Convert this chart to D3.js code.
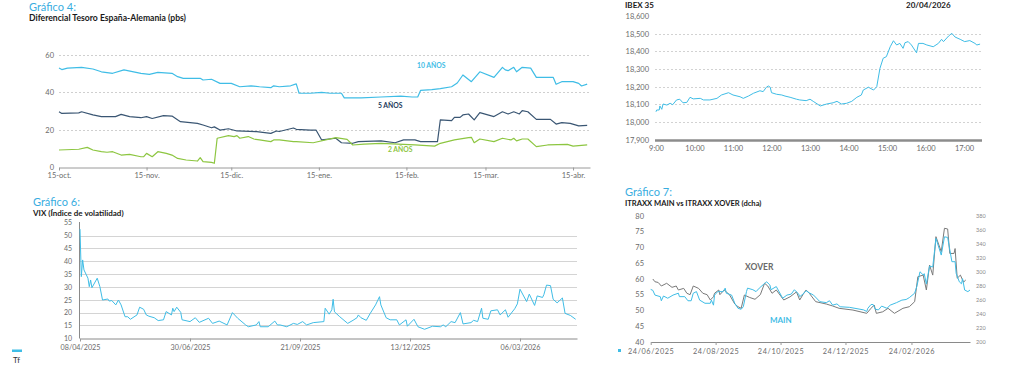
<!DOCTYPE html>
<html><head><meta charset="utf-8">
<script src="https://cdn.jsdelivr.net/npm/d3@7"></script>
<style>
html,body{margin:0;padding:0;background:#fff;}
svg{display:block;font-family:Lato,"Open Sans",sans-serif;}
</style></head><body>
<svg id="c" width="1024" height="365"></svg>
<script>
// ---------- Gráfico 4: Diferencial Tesoro España-Alemania (pbs) ----------
const spreadTicks = ["2025-10-15","2025-11-15","2025-12-15","2026-01-15","2026-02-15","2026-03-15","2026-04-15"];
const spreadTickLabels = ["15-oct.","15-nov.","15-dic.","15-ene.","15-feb.","15-mar.","15-abr."];
const spreadYTicks = [0,20,40,60];
const spread10 = [["2025-10-15",53],["2025-10-16",52.2],["2025-10-18",53],["2025-10-23",53.4],["2025-10-27",52.5],["2025-10-30",51],["2025-11-03",50.2],["2025-11-07",52],["2025-11-13",50.2],["2025-11-16",49.6],["2025-11-19",50.7],["2025-11-24",50.2],["2025-11-26",48.4],["2025-11-28",47.5],["2025-12-04",47.5],["2025-12-05",46.6],["2025-12-08",47],["2025-12-11",44.8],["2025-12-15",44.8],["2025-12-18",43],["2025-12-22",43.5],["2025-12-25",43],["2025-12-29",42.5],["2025-12-30",43.5],["2026-01-01",43],["2026-01-05",43.5],["2026-01-07",44.5],["2026-01-08",39.5],["2026-01-12",39.5],["2026-01-16",40],["2026-01-19",39.5],["2026-01-23",39.5],["2026-01-24",37],["2026-01-30",37],["2026-02-06",37.5],["2026-02-13",38],["2026-02-17",37.5],["2026-02-19",37.5],["2026-02-20",41],["2026-02-24",41.5],["2026-02-27",42],["2026-03-03",43],["2026-03-05",45],["2026-03-07",49.3],["2026-03-10",45.7],["2026-03-13",51],["2026-03-18",48],["2026-03-21",53.4],["2026-03-22",52],["2026-03-23",51.6],["2026-03-25",53.4],["2026-03-26",51],["2026-03-28",53.4],["2026-03-31",53],["2026-04-02",48],["2026-04-08",48],["2026-04-09",44.3],["2026-04-11",45.7],["2026-04-15",45.7],["2026-04-17",44.8],["2026-04-18",43.4],["2026-04-20",44.4]];
const spread5 = [["2025-10-15",29.6],["2025-10-16",28.7],["2025-10-22",29],["2025-10-23",29.6],["2025-10-27",27.9],["2025-10-30",27],["2025-11-04",27],["2025-11-06",28.2],["2025-11-09",27],["2025-11-13",26.4],["2025-11-15",27],["2025-11-17",26],["2025-11-21",27.5],["2025-11-24",27.3],["2025-11-27",24.3],["2025-12-03",23.4],["2025-12-05",22.5],["2025-12-08",21],["2025-12-09",21.5],["2025-12-11",19.8],["2025-12-14",20.5],["2025-12-17",19.3],["2025-12-24",18.9],["2025-12-29",18],["2025-12-31",19.3],["2026-01-01",19],["2026-01-06",20.9],["2026-01-07",20.2],["2026-01-12",19.8],["2026-01-14",19.8],["2026-01-16",14.5],["2026-01-21",15.4],["2026-01-23",13],["2026-01-27",12.7],["2026-01-29",13.6],["2026-02-06",14],["2026-02-11",13],["2026-02-14",14.5],["2026-02-18",14.5],["2026-02-20",13.6],["2026-02-26",13.6],["2026-02-27",25.2],["2026-03-03",24.8],["2026-03-04",26.6],["2026-03-06",26.6],["2026-03-07",27.9],["2026-03-09",28.4],["2026-03-11",25.2],["2026-03-13",29.1],["2026-03-18",27],["2026-03-21",29.6],["2026-03-23",28.4],["2026-03-25",29.6],["2026-03-27",28.4],["2026-03-28",30.2],["2026-03-30",29.6],["2026-04-02",25.5],["2026-04-07",25.5],["2026-04-09",23],["2026-04-11",23.8],["2026-04-14",23.4],["2026-04-17",22],["2026-04-20",22.3]];
const spread2 = [["2025-10-15",9.1],["2025-10-22",9.5],["2025-10-25",10.5],["2025-10-27",9.1],["2025-10-30",8.2],["2025-11-01",7.9],["2025-11-03",8.2],["2025-11-06",6.4],["2025-11-09",6.8],["2025-11-13",5.5],["2025-11-14",5.5],["2025-11-15",7.3],["2025-11-17",5.5],["2025-11-19",8.2],["2025-11-22",7.3],["2025-11-24",6.4],["2025-11-26",4.6],["2025-11-29",3.75],["2025-12-03",3.2],["2025-12-04",5],["2025-12-05",2.9],["2025-12-08",2.5],["2025-12-09",2],["2025-12-10",15.4],["2025-12-14",16.8],["2025-12-16",16.3],["2025-12-17",16.8],["2025-12-18",15.4],["2025-12-21",16.3],["2025-12-23",15],["2025-12-25",14.5],["2025-12-29",13.6],["2025-12-30",14.5],["2026-01-01",14.5],["2026-01-06",13.6],["2026-01-07",13.6],["2026-01-13",13],["2026-01-21",15.7],["2026-01-25",14.8],["2026-01-27",11.8],["2026-01-31",12.3],["2026-02-06",12.7],["2026-02-18",11.8],["2026-02-25",11.2],["2026-02-27",12.7],["2026-03-04",14.5],["2026-03-09",15.7],["2026-03-10",15.9],["2026-03-11",13],["2026-03-13",15],["2026-03-18",13.6],["2026-03-21",15.4],["2026-03-24",14.5],["2026-03-25",15.4],["2026-03-26",14],["2026-03-28",15],["2026-03-30",15],["2026-04-02",10.9],["2026-04-06",11.8],["2026-04-13",12.1],["2026-04-15",11.2],["2026-04-20",11.8]];

// ---------- IBEX 35 intradía ----------
const ibexTicks = ["9:00","10:00","11:00","12:00","13:00","14:00","15:00","16:00","17:00"];
const ibexYTicks = [17900,18000,18100,18200,18300,18400,18500,18600];
const ibex = [["9:00",18058],["9:01",18068],["9:05",18068],["9:06",18091],["9:09",18072],["9:11",18102],["9:17",18096],["9:22",18106],["9:26",18098],["9:32",18125],["9:37",18129],["9:42",18109],["9:48",18111],["9:53",18140],["9:58",18131],["10:09",18134],["10:14",18125],["10:24",18125],["10:35",18134],["10:42",18153],["10:53",18166],["11:00",18153],["11:11",18143],["11:16",18134],["11:24",18147],["11:32",18163],["11:42",18177],["11:47",18172],["11:52",18197],["11:55",18204],["11:58",18197],["12:00",18166],["12:08",18157],["12:16",18153],["12:21",18147],["12:29",18140],["12:39",18129],["12:44",18125],["12:54",18121],["13:00",18129],["13:05",18117],["13:16",18091],["13:26",18102],["13:36",18109],["13:42",18117],["13:49",18102],["13:57",18106],["14:05",18117],["14:13",18140],["14:20",18153],["14:23",18181],["14:31",18197],["14:39",18181],["14:44",18200],["14:49",18304],["14:54",18361],["14:59",18370],["15:05",18426],["15:10",18460],["15:15",18436],["15:20",18445],["15:25",18417],["15:28",18449],["15:33",18455],["15:38",18436],["15:46",18392],["15:49",18445],["15:56",18445],["16:02",18436],["16:12",18426],["16:20",18445],["16:25",18468],["16:28",18455],["16:36",18487],["16:41",18502],["16:46",18481],["16:54",18468],["17:01",18455],["17:09",18461],["17:17",18445],["17:20",18436],["17:25",18441]];

// ---------- Gráfico 6: VIX ----------
const vixTicks = ["2025-04-08","2025-06-30","2025-09-21","2025-12-13","2026-03-06"];
const vixTickLabels = ["08/04/2025","30/06/2025","21/09/2025","13/12/2025","06/03/2026"];
const vixYTicks = [10,15,20,25,30,35,40,45,50,55];
const vix = [["2025-04-08",52.5],["2025-04-09",34],["2025-04-10",40.5],["2025-04-11",36.6],["2025-04-14",33.4],["2025-04-15",30.1],["2025-04-16",32.7],["2025-04-17",29.7],["2025-04-21",33.4],["2025-04-23",30.1],["2025-04-25",24.9],["2025-04-29",25.3],["2025-04-30",24.5],["2025-05-02",24.7],["2025-05-05",23],["2025-05-07",24.9],["2025-05-09",23],["2025-05-12",18.4],["2025-05-14",18.4],["2025-05-16",17.4],["2025-05-21",19.1],["2025-05-23",22.1],["2025-05-26",21.3],["2025-05-28",19.1],["2025-05-30",18.6],["2025-06-03",18],["2025-06-06",16.9],["2025-06-10",17.2],["2025-06-12",20.4],["2025-06-16",19.1],["2025-06-17",21.7],["2025-06-18",20.4],["2025-06-20",22.1],["2025-06-23",20.1],["2025-06-24",17.2],["2025-06-30",16.5],["2025-07-04",18],["2025-07-07",16.2],["2025-07-14",17.8],["2025-07-17",15.8],["2025-07-22",16.7],["2025-07-28",15.2],["2025-08-01",20],["2025-08-05",17.8],["2025-08-11",15.2],["2025-08-13",14.5],["2025-08-19",15.2],["2025-08-21",16.5],["2025-08-22",14.5],["2025-08-28",14.5],["2025-09-02",16.7],["2025-09-04",15.2],["2025-09-06",15.2],["2025-09-11",14.5],["2025-09-16",15.8],["2025-09-19",15.4],["2025-09-23",16.5],["2025-09-26",15.2],["2025-10-01",16.1],["2025-10-09",16.5],["2025-10-10",21.7],["2025-10-13",19.4],["2025-10-15",21.1],["2025-10-16",25.2],["2025-10-17",20.3],["2025-10-21",18.4],["2025-10-27",15.8],["2025-10-31",17],["2025-11-03",18],["2025-11-04",19.1],["2025-11-06",18],["2025-11-10",17],["2025-11-13",19.7],["2025-11-17",23],["2025-11-20",26.2],["2025-11-21",23],["2025-11-25",18],["2025-11-28",17.2],["2025-12-03",17.2],["2025-12-05",15.2],["2025-12-10",17.2],["2025-12-11",14.7],["2025-12-16",17.4],["2025-12-19",14.5],["2025-12-24",13.5],["2025-12-30",14.7],["2026-01-05",14.5],["2026-01-07",15.2],["2026-01-09",14.5],["2026-01-13",16.5],["2026-01-16",16.1],["2026-01-20",20],["2026-01-22",15.6],["2026-01-28",16.1],["2026-01-30",17],["2026-02-02",16.5],["2026-02-05",21.7],["2026-02-06",17.8],["2026-02-10",17.4],["2026-02-12",20.7],["2026-02-17",21.1],["2026-02-19",19.1],["2026-02-23",21.1],["2026-02-25",18.2],["2026-03-02",21.5],["2026-03-04",23.4],["2026-03-06",29.1],["2026-03-11",24.3],["2026-03-13",27.2],["2026-03-17",22.8],["2026-03-19",26.5],["2026-03-23",25.9],["2026-03-24",27],["2026-03-26",30.7],["2026-03-29",30.5],["2026-03-31",25.2],["2026-04-03",23.8],["2026-04-07",25.7],["2026-04-09",19.7],["2026-04-13",18.9],["2026-04-17",17.4]];

// ---------- Gráfico 7: ITRAXX MAIN vs ITRAXX XOVER ----------
const itxTicks = ["2025-06-24","2025-08-24","2025-10-24","2025-12-24","2026-02-24"];
const itxTickLabels = ["24/06/2025","24/08/2025","24/10/2025","24/12/2025","24/02/2026"];
const mainYTicks = [40,45,50,55,60,65,70,75,80];
const xoverYTicks = [200,220,240,260,280,300,320,340,360,380];
const itraxxMain = [["2025-06-24",56.6],["2025-06-26",56.3],["2025-06-28",54.8],["2025-07-03",54.3],["2025-07-04",53],["2025-07-06",54.5],["2025-07-10",53.8],["2025-07-15",54.8],["2025-07-20",55.4],["2025-07-21",54.3],["2025-07-26",54.3],["2025-07-29",53],["2025-08-01",53],["2025-08-03",55.4],["2025-08-06",55.9],["2025-08-09",53.2],["2025-08-14",52.2],["2025-08-19",52.2],["2025-08-20",53.2],["2025-08-22",51.6],["2025-08-23",54.8],["2025-08-26",55.9],["2025-08-31",55.9],["2025-09-02",57],["2025-09-03",55.4],["2025-09-08",54.8],["2025-09-11",52.2],["2025-09-14",50.6],["2025-09-17",50.3],["2025-09-19",51.1],["2025-09-22",55.9],["2025-09-23",57],["2025-09-28",56.5],["2025-10-01",55.9],["2025-10-04",57],["2025-10-09",58.5],["2025-10-11",59],["2025-10-14",58],["2025-10-15",56.5],["2025-10-20",57.5],["2025-10-26",53.8],["2025-10-30",54.8],["2025-11-03",55.1],["2025-11-06",56.5],["2025-11-10",55.1],["2025-11-11",54.3],["2025-11-14",55.1],["2025-11-17",56.2],["2025-11-20",55.5],["2025-11-24",54.8],["2025-11-30",52.7],["2025-12-06",52.4],["2025-12-09",53],["2025-12-12",51.6],["2025-12-16",52],["2025-12-19",51.1],["2025-12-28",50.9],["2026-01-10",50.1],["2026-01-13",49.6],["2026-01-14",50.6],["2026-01-17",51.8],["2026-01-19",51.8],["2026-01-21",50.3],["2026-01-24",50.1],["2026-01-27",51.3],["2026-02-01",50.6],["2026-02-04",51.6],["2026-02-10",52.4],["2026-02-15",53.2],["2026-02-19",53.4],["2026-02-22",54],["2026-02-27",55.4],["2026-03-01",57.5],["2026-03-04",62.2],["2026-03-07",61.2],["2026-03-08",61.6],["2026-03-10",58.3],["2026-03-13",64],["2026-03-16",63.7],["2026-03-19",72.8],["2026-03-24",67.5],["2026-03-27",73.3],["2026-03-30",73.1],["2026-04-03",65.4],["2026-04-06",65.4],["2026-04-07",61.7],["2026-04-10",59],["2026-04-12",58.4],["2026-04-13",60],["2026-04-15",56.4],["2026-04-18",55.9],["2026-04-20",56.4]];
const itraxxXover = [["2025-06-26",289.4],["2025-06-28",285.5],["2025-07-01",284.5],["2025-07-04",279.4],["2025-07-09",283.3],["2025-07-14",277.5],["2025-07-18",279.4],["2025-07-20",273.7],["2025-07-25",276],["2025-07-28",269],["2025-07-31",267],["2025-08-03",279.4],["2025-08-08",276],["2025-08-12",269],["2025-08-16",267],["2025-08-19",259.4],["2025-08-22",264],["2025-08-23",269],["2025-08-27",273.7],["2025-08-28",267],["2025-09-01",273.7],["2025-09-06",267],["2025-09-11",253.6],["2025-09-14",249.8],["2025-09-17",247.5],["2025-09-20",266.5],["2025-09-25",263],["2025-09-30",260.4],["2025-10-05",267],["2025-10-09",283.3],["2025-10-12",279.4],["2025-10-16",269],["2025-10-20",273.7],["2025-10-27",259.4],["2025-11-02",264],["2025-11-08",271],["2025-11-11",259.4],["2025-11-14",267],["2025-11-17",273.7],["2025-11-20",269],["2025-11-26",257],["2025-12-06",253.6],["2025-12-12",250.8],["2025-12-18",247.5],["2025-12-31",245],["2026-01-13",240.3],["2026-01-17",247.5],["2026-01-20",252.2],["2026-01-22",240.3],["2026-01-28",242.5],["2026-02-02",247.5],["2026-02-08",240.3],["2026-02-16",247.5],["2026-02-22",249.8],["2026-02-27",257],["2026-03-02",292.7],["2026-03-07",295],["2026-03-10",273.7],["2026-03-13",309.4],["2026-03-16",295],["2026-03-19",350],["2026-03-24",328.5],["2026-03-27",362],["2026-03-30",361],["2026-04-01",326],["2026-04-05",326],["2026-04-06",333],["2026-04-08",290.5],["2026-04-11",295],["2026-04-13",288],["2026-04-14",285],["2026-04-16",288]];

// ---------- drawing ----------
const C_CYAN = "#3fbde6", C_NAVY = "#3a5673", C_GREEN = "#8dc641", C_GRAY = "#7a7a7a";
const C_TITLE = "#38addf", C_LABEL = "#6b6b6b";
const pd = d3.timeParse("%Y-%m-%d");
const pt = s => { const [h, m] = s.split(":"); return new Date(2026, 3, 20, +h, +m); };
const svg = d3.select("#c");

function text(x, y, s, opt) {
  const t = svg.append("text").attr("x", x).attr("y", y).text(s)
    .attr("font-size", opt.size).attr("fill", opt.fill || "#222")
    .attr("font-weight", opt.weight || "normal");
  if (opt.anchor) t.attr("text-anchor", opt.anchor);
  if (opt.ls) t.attr("letter-spacing", opt.ls);
  return t;
}
function line(data, x, y, parse, color, w) {
  svg.append("path").datum(data)
    .attr("d", d3.line().x(d => x(parse(d[0]))).y(d => y(d[1])))
    .attr("fill", "none").attr("stroke", color).attr("stroke-width", w)
    .attr("stroke-linejoin", "round");
}
function styleAxis(g, size, fill) {
  g.selectAll("text").attr("font-size", size).attr("fill", fill).attr("font-family", "Lato");
  g.selectAll("line").attr("stroke", "#9a9a9a");
  g.select(".domain").attr("stroke", "#9a9a9a");
}

// ===== Gráfico 4 =====
{
  const x = d3.scaleTime().domain([pd("2025-10-15"), pd("2026-04-21")]).range([59, 590]);
  const y = d3.scaleLinear().domain([0, 60]).range([167, 55]);
  text(29, 10.5, "Gráfico 4:", {size: 11, fill: C_TITLE});
  text(29, 20.5, "Diferencial Tesoro España-Alemania (pbs)", {size: 8.6, weight: 700, fill: "#1a1a1a"});
  svg.append("g").selectAll("line").data(spreadYTicks.filter(v => v > 0)).join("line")
    .attr("x1", 59).attr("x2", 590).attr("y1", d => Math.round(y(d)) + 0.5).attr("y2", d => Math.round(y(d)) + 0.5)
    .attr("stroke", "#cfcfcf").attr("stroke-dasharray", "2,2");
  const gy = svg.append("g").attr("transform", "translate(57,0)")
    .call(d3.axisLeft(y).tickValues(spreadYTicks).tickSize(0).tickPadding(3));
  gy.select(".domain").remove();
  styleAxis(gy, 7.5, C_LABEL);
  const gx = svg.append("g").attr("transform", "translate(0,167.5)")
    .call(d3.axisBottom(x).tickValues(spreadTicks.map(pd)).tickFormat((d, i) => spreadTickLabels[i])
      .tickSizeInner(3).tickSizeOuter(0).tickPadding(2));
  styleAxis(gx, 7.5, C_LABEL);
  line(spread10, x, y, pd, C_CYAN, 1.2);
  line(spread5, x, y, pd, C_NAVY, 1.2);
  line(spread2, x, y, pd, C_GREEN, 1.2);
  text(417, 68, "10 AÑOS", {size: 6.8, weight: 700, fill: C_CYAN});
  text(378, 108, "5 AÑOS", {size: 6.8, weight: 700, fill: "#22385a"});
  text(388, 152, "2 AÑOS", {size: 6.8, weight: 700, fill: C_GREEN});
}

// ===== IBEX 35 =====
{
  const x = d3.scaleTime().domain([pt("9:00"), pt("17:28")]).range([656, 982]);
  const y = d3.scaleLinear().domain([17900, 18600]).range([139.7, 16]);
  text(625, 7.5, "IBEX 35", {size: 8, weight: 700, fill: "#1a1a1a"});
  text(906, 7.5, "20/04/2026", {size: 8, weight: 700, fill: "#1a1a1a"});
  svg.append("g").selectAll("line").data(ibexYTicks.filter(v => v > 17900 && v < 18600)).join("line")
    .attr("x1", 655).attr("x2", 981).attr("y1", d => Math.round(y(d)) + 0.5).attr("y2", d => Math.round(y(d)) + 0.5)
    .attr("stroke", "#d2d2d2").attr("stroke-dasharray", "2,2");
  svg.append("line").attr("x1", 655).attr("x2", 982).attr("y1", y(17900) + 0.8).attr("y2", y(17900) + 0.8)
    .attr("stroke", "#8c8c8c").attr("stroke-width", 2.6);
  const gy = svg.append("g").attr("transform", "translate(652,0)")
    .call(d3.axisLeft(y).tickValues(ibexYTicks).tickFormat(d3.format(",")).tickSize(0).tickPadding(3));
  gy.select(".domain").remove();
  styleAxis(gy, 7.5, C_LABEL);
  const gx = svg.append("g").attr("transform", "translate(0,141)")
    .call(d3.axisBottom(x).tickValues(ibexTicks.map(pt)).tickFormat(d3.timeFormat("%-H:%M")).tickSize(0).tickPadding(5));
  gx.select(".domain").remove();
  styleAxis(gx, 7.5, C_LABEL);
  line(ibex, x, y, pt, C_CYAN, 1);
}

// ===== Gráfico 6: VIX =====
{
  const x = d3.scaleTime().domain([pd("2025-04-08"), pd("2026-04-18")]).range([80, 577]);
  const y = d3.scaleLinear().domain([10, 55]).range([338.3, 222.7]);
  text(33, 205.5, "Gráfico 6:", {size: 11, fill: C_TITLE});
  text(33, 215.5, "VIX (Índice de volatilidad)", {size: 8, weight: 700, fill: "#1a1a1a"});
  svg.append("g").selectAll("line").data(vixYTicks.filter(v => v > 10 && v < 55)).join("line")
    .attr("x1", 80).attr("x2", 577).attr("y1", d => Math.round(y(d)) + 0.5).attr("y2", d => Math.round(y(d)) + 0.5)
    .attr("stroke", "#d4d4d4");
  svg.append("line").attr("x1", 79.5).attr("x2", 79.5).attr("y1", 222).attr("y2", 338.5).attr("stroke", "#8a8a8a");
  const gy = svg.append("g").attr("transform", "translate(75,0)")
    .call(d3.axisLeft(y).tickValues(vixYTicks).tickSize(0).tickPadding(3));
  gy.select(".domain").remove();
  styleAxis(gy, 7, C_LABEL);
  const gx = svg.append("g").attr("transform", "translate(0,338.5)")
    .call(d3.axisBottom(x).tickValues(vixTicks.map(pd)).tickFormat((d, i) => vixTickLabels[i])
      .tickSizeInner(3).tickSizeOuter(0).tickPadding(3));
  styleAxis(gx, 7.2, C_LABEL);
  gx.select(".domain").attr("stroke", "#8a8a8a");
  line(vix, x, y, pd, C_CYAN, 1);
}

// ===== Gráfico 7: ITRAXX =====
{
  const x = d3.scaleTime().domain([pd("2025-06-24"), pd("2026-04-20")]).range([650.7, 970]);
  const yL = d3.scaleLinear().domain([40, 80]).range([341.7, 215.7]);
  const yR = d3.scaleLinear().domain([200, 380]).range([341.5, 215.7]);
  text(625, 195.5, "Gráfico 7:", {size: 11, fill: C_TITLE});
  text(625, 205.5, "ITRAXX MAIN vs ITRAXX XOVER (dcha)", {size: 7.6, weight: 700, fill: "#1a1a1a"});
  const gyl = svg.append("g").attr("transform", "translate(647,0)")
    .call(d3.axisLeft(yL).tickValues(mainYTicks).tickSize(0).tickPadding(3));
  gyl.select(".domain").remove();
  styleAxis(gyl, 7.5, C_LABEL);
  const gyr = svg.append("g").attr("transform", "translate(974,0)")
    .call(d3.axisRight(yR).tickValues(xoverYTicks).tickSize(0).tickPadding(2));
  gyr.select(".domain").remove();
  styleAxis(gyr, 5.5, "#8a8a8a");
  const gx = svg.append("g").attr("transform", "translate(0,342)")
    .call(d3.axisBottom(x).tickValues(itxTicks.map(pd)).tickFormat((d, i) => itxTickLabels[i])
      .tickSizeInner(3).tickSizeOuter(0).tickPadding(4));
  styleAxis(gx, 7.3, C_LABEL);
  gx.selectAll("text").attr("letter-spacing", 0.6);
  gx.select(".domain").attr("stroke", "#8a8a8a");
  line(itraxxXover, x, yR, pd, C_GRAY, 1);
  line(itraxxMain, x, yL, pd, C_CYAN, 1);
  text(745, 270, "XOVER", {size: 8.5, weight: 700, fill: "#6a6a6a"});
  text(770, 322.5, "MAIN", {size: 8, weight: 700, fill: C_CYAN});
  svg.append("rect").attr("x", 618).attr("y", 349).attr("width", 3).attr("height", 3).attr("fill", C_CYAN);
}

// legend remnants at bottom-left
svg.append("rect").attr("x", 12).attr("y", 349.5).attr("width", 10).attr("height", 2.5).attr("fill", C_CYAN);
text(13, 363, "Tf", {size: 8, fill: "#333"});
</script>
</body></html>
